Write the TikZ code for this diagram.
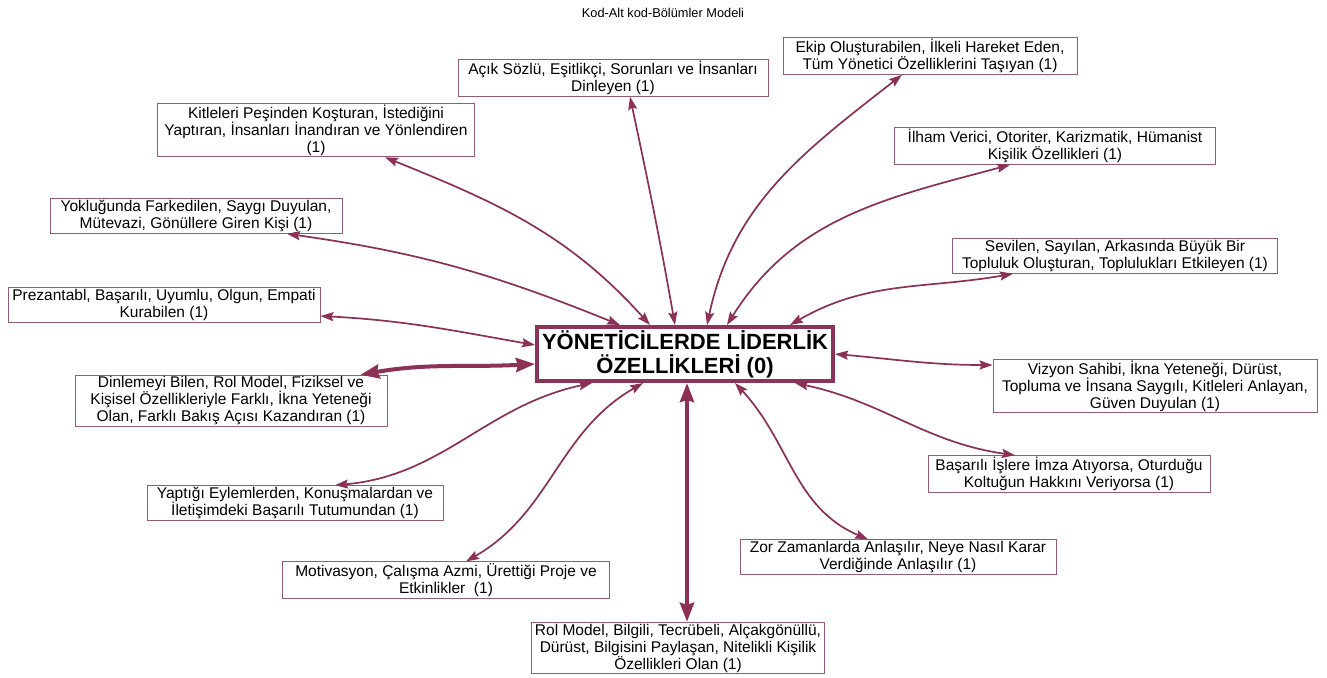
\documentclass[tikz,border=0pt]{standalone}
\usepackage{fontspec}
\setmainfont{Liberation Sans}
\usetikzlibrary{arrows.meta}
\definecolor{linkc}{RGB}{140,48,86}
\definecolor{boxc}{RGB}{150,92,118}
\definecolor{hubc}{RGB}{139,52,90}
\tikzset{
  leaf/.style={draw=boxc, line width=0.9pt, fill=white, align=center,
    font=\fontsize{15.5}{17}\selectfont, inner xsep=3pt, inner ysep=1.5pt},
  hub/.style={draw=hubc, line width=4pt, fill=white, align=center,
    font=\bfseries\fontsize{22}{24}\selectfont, minimum width=296pt,
    minimum height=54pt, inner sep=0pt},
  link/.style={draw=linkc, line width=1.7pt,
    {Stealth[length=13pt,width=9pt,inset=2pt]}-{Stealth[length=13pt,width=9pt,inset=2pt]}},
  heavylink/.style={draw=linkc, line width=4pt,
    {Stealth[length=19pt,width=14pt,inset=2pt]}-{Stealth[length=19pt,width=14pt,inset=2pt]}},
}
\begin{document}
\begin{tikzpicture}[x=1pt,y=1pt]
\useasboundingbox (0,0) rectangle (1327,-677);

\node[font=\fontsize{12.8}{14}\selectfont] (title) at (663,-13) {Kod-Alt kod-Bölümler Modeli};

% central concept
\node[hub] (C) at (685,-354) {YÖNETİCİLERDE LİDERLİK\\ÖZELLİKLERİ (0)};

% sub-codes
\node[leaf, minimum width=310pt] (B1) at (613,-78) {Açık Sözlü, Eşitlikçi, Sorunları ve İnsanları\\Dinleyen (1)};
\node[leaf, minimum width=294pt] (B2) at (930,-56) {Ekip Oluşturabilen, İlkeli Hareket Eden,\\Tüm Yönetici Özelliklerini Taşıyan (1)};
\node[leaf, minimum width=317pt] (B3) at (316,-130) {Kitleleri Peşinden Koşturan, İstediğini\\Yaptıran, İnsanları İnandıran ve Yönlendiren\\(1)};
\node[leaf, minimum width=321pt] (B4) at (1055,-146) {İlham Verici, Otoriter, Karizmatik, Hümanist\\Kişilik Özellikleri (1)};
\node[leaf, minimum width=292pt] (B5) at (196,-216) {Yokluğunda Farkedilen, Saygı Duyulan,\\Mütevazi, Gönüllere Giren Kişi (1)};
\node[leaf, minimum width=325pt] (B6) at (1115,-256) {Sevilen, Sayılan, Arkasında Büyük Bir\\Topluluk Oluşturan, Toplulukları Etkileyen (1)};
\node[leaf, minimum width=312pt] (B7) at (164,-305) {Prezantabl, Başarılı, Uyumlu, Olgun, Empati\\Kurabilen (1)};
\node[leaf, minimum width=324pt] (B8) at (1155,-386) {Vizyon Sahibi, İkna Yeteneği, Dürüst,\\Topluma ve İnsana Saygılı, Kitleleri Anlayan,\\Güven Duyulan (1)};
\node[leaf, minimum width=312pt] (B9) at (231,-401) {Dinlemeyi Bilen, Rol Model, Fiziksel ve\\Kişisel Özellikleriyle Farklı, İkna Yeteneği\\Olan, Farklı Bakış Açısı Kazandıran (1)};
\node[leaf, minimum width=282pt] (B10) at (1069,-474) {Başarılı İşlere İmza Atıyorsa, Oturduğu\\Koltuğun Hakkını Veriyorsa (1)};
\node[leaf, minimum width=296pt] (B11) at (295,-503) {Yaptığı Eylemlerden, Konuşmalardan ve\\İletişimdeki Başarılı Tutumundan (1)};
\node[leaf, minimum width=316pt] (B12) at (898,-557) {Zor Zamanlarda Anlaşılır, Neye Nasıl Karar\\Verdiğinde Anlaşılır (1)};
\node[leaf, minimum width=327pt] (B13) at (446,-580) {Motivasyon, Çalışma Azmi, Ürettiği Proje ve\\Etkinlikler~~(1)};
\node[leaf, minimum width=293pt] (B14) at (678,-648) {Rol Model, Bilgili, Tecrübeli, Alçakgönüllü,\\Dürüst, Bilgisini Paylaşan, Nitelikli Kişilik\\Özellikleri Olan (1)};

% connectors
\draw[link] ([xshift=-10pt]C.north) to[out=100,in=-78] ([xshift=17pt]B1.south);
\draw[link] ([xshift=22pt]C.north) to[out=78,in=-142] ([xshift=-28pt]B2.south);
\draw[link] ([xshift=-35pt]C.north) to[out=132,in=-22] ([xshift=69pt]B3.south);
\draw[link] ([xshift=42pt]C.north) to[out=58,in=-165] ([xshift=-45pt]B4.south);
\draw[link] ([xshift=-65pt]C.north) to[out=158,in=-8] ([xshift=91pt]B5.south);
\draw[link] ([xshift=105pt]C.north) to[out=30,in=-170] ([xshift=-102pt]B6.south);
\draw[link] ([yshift=9pt]C.west) to[out=170,in=-3] ([yshift=-11pt]B7.east);
\draw[link] (C.east) to[out=-5,in=180] ([yshift=21pt]B8.west);
\draw[heavylink] ([yshift=-10pt]C.west) to[out=183,in=10] ([xshift=-27pt]B9.north east);
\draw[link] ([xshift=110pt]C.south) to[out=-12,in=172] ([xshift=-54pt]B10.north);
\draw[link] ([xshift=-93pt]C.south) to[out=192,in=5] ([xshift=40pt]B11.north);
\draw[link] ([xshift=50pt]C.south) to[out=-47,in=157] ([xshift=-30pt]B12.north);
\draw[link] ([xshift=-42pt]C.south) to[out=210,in=30] ([xshift=20pt]B13.north);
\draw[heavylink] ([xshift=2pt]C.south) -- ([xshift=2pt]C.south |- B14.north);
\end{tikzpicture}
\end{document}
